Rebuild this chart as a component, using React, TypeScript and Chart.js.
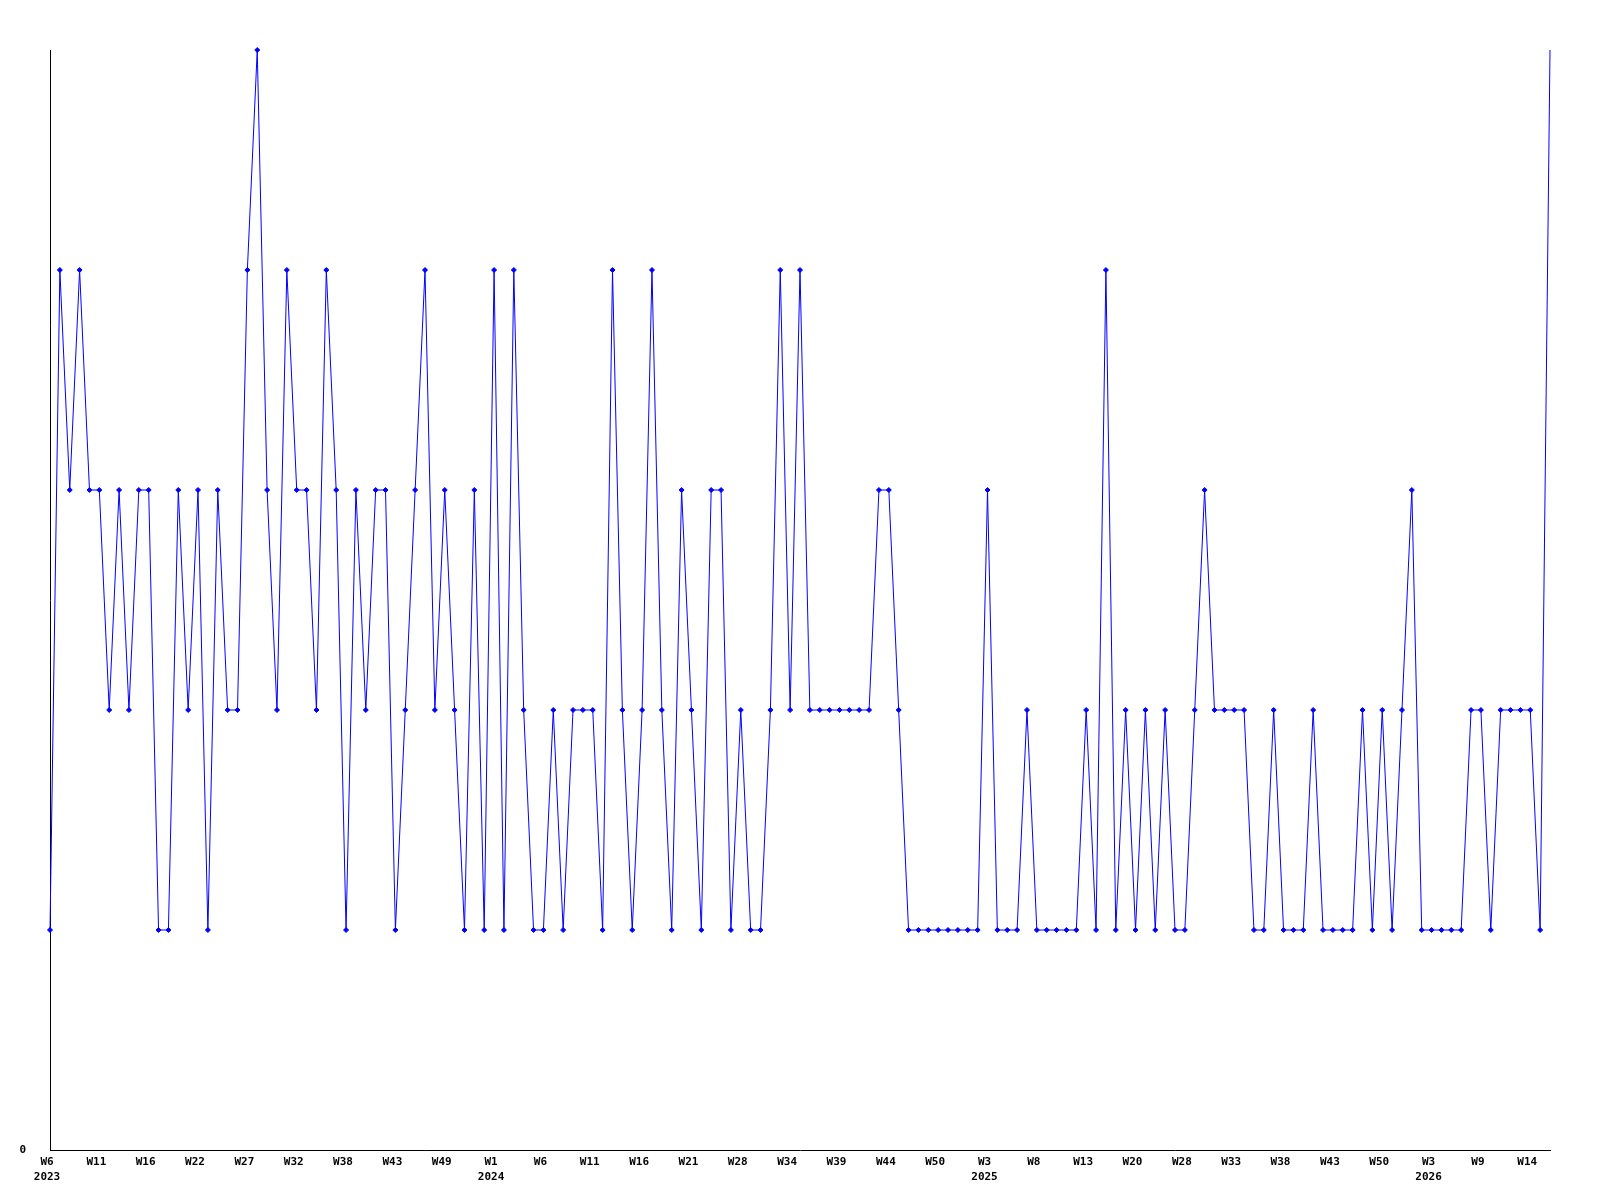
import React, { useEffect, useRef } from 'react';
import { Chart, registerables } from 'chart.js';

Chart.register(...registerables);

// Weekly values, one per point (2023 W6 … 2026 W16)
const values: number[] = [
  1, 4, 3, 4, 3, 3, 2, 3, 2, 3, 3, 1, 1, 3, 2, 3, 1, 3, 2, 2, 4, 5, 3, 2, 4, 3,
  3, 2, 4, 3, 1, 3, 2, 3, 3, 1, 2, 3, 4, 2, 3, 2, 1, 3, 1, 4, 1, 4, 2, 1, 1,
  2, 1, 2, 2, 2, 1, 4, 2, 1, 2, 4, 2, 1, 3, 2, 1, 3, 3, 1, 2, 1, 1, 2, 4, 2, 4,
  2, 2, 2, 2, 2, 2, 2, 3, 3, 2, 1, 1, 1, 1, 1, 1, 1, 1, 3, 1, 1, 1, 2, 1,
  1, 1, 1, 1, 2, 1, 4, 1, 2, 1, 2, 1, 2, 1, 1, 2, 3, 2, 2, 2, 2, 1, 1, 2, 1, 1,
  1, 2, 1, 1, 1, 1, 2, 1, 2, 1, 2, 3, 1, 1, 1, 1, 1, 2, 2, 1, 2, 2, 2, 2, 1, 5,
];

// Tick labels, one every TICK_STEP points
const TICK_STEP = 5;
const tickWeeks: string[] = [
  'W6', 'W11', 'W16', 'W22', 'W27', 'W32', 'W38', 'W43', 'W49',
  'W1', 'W6', 'W11', 'W16', 'W21', 'W28', 'W34', 'W39', 'W44', 'W50',
  'W3', 'W8', 'W13', 'W20', 'W28', 'W33', 'W38', 'W43', 'W50',
  'W3', 'W9', 'W14',
];
const tickYears: string[] = [
  '2023', '', '', '', '', '', '', '', '',
  '2024', '', '', '', '', '', '', '', '', '',
  '2025', '', '', '', '', '', '', '', '',
  '2026', '', '',
];

const yMin = 0;
const yMax = 5;

const FONT = {
  family: '"DejaVu Sans Mono", "Liberation Mono", monospace',
  size: 11,
  weight: 'bold' as const,
  lineHeight: 1.35,
};

export default function App() {
  const ref = useRef<HTMLCanvasElement | null>(null);

  useEffect(() => {
    if (!ref.current) return;
    const last = values.length - 1;
    const chart = new Chart(ref.current, {
      type: 'line',
      data: {
        datasets: [
          {
            data: values.map((v, i) => ({ x: i, y: v })),
            borderColor: '#0000ff',
            backgroundColor: '#0000ff',
            borderWidth: 1,
            pointRadius: (ctx: any) => (ctx.dataIndex === last ? 0 : 2.5),
            pointStyle: 'rectRot',
            pointBackgroundColor: '#0000ff',
            pointBorderColor: '#0000ff',
            pointBorderWidth: 1,
            tension: 0,
            fill: false,
            clip: false as any,
          },
        ],
      },
      options: {
        responsive: false,
        animation: false,
        events: [],
        layout: { padding: { top: 50, right: 50, left: 0, bottom: 0 } },
        plugins: {
          legend: { display: false },
          tooltip: { enabled: false },
        },
        scales: {
          x: {
            type: 'linear',
            min: 0,
            max: values.length - 1,
            grid: { display: false, drawTicks: false },
            border: { display: true, color: '#000000', width: 1 },
            afterBuildTicks: (s: any) => {
              s.ticks = tickWeeks.map((_, i) => ({ value: i * TICK_STEP }));
            },
            afterFit: (s: any) => {
              s.height = 50;
            },
            ticks: {
              autoSkip: false,
              maxRotation: 0,
              minRotation: 0,
              padding: 5,
              labelOffset: -3,
              color: '#000000',
              font: FONT,
              callback: (v: any) => {
                const k = Math.round(Number(v) / TICK_STEP);
                const w = tickWeeks[k] ?? '';
                return tickYears[k] ? [w, tickYears[k]] : w;
              },
            },
          },
          y: {
            min: yMin,
            max: yMax,
            grid: { display: false, drawTicks: false },
            border: { display: true, color: '#000000', width: 1 },
            afterFit: (s: any) => {
              s.width = 50;
            },
            ticks: {
              stepSize: 1,
              padding: 24,
              color: '#000000',
              font: FONT,
              callback: (v: any) => (Number(v) === 0 ? '0' : ''),
            },
          },
        },
      },
    });
    return () => chart.destroy();
  }, []);

  return (
    <div style={{ position: 'absolute', left: 0, top: 0, width: 1600, height: 1200, background: '#ffffff' }}>
      <canvas ref={ref} width={1600} height={1200} style={{ width: 1600, height: 1200, display: 'block' }} />
    </div>
  );
}
